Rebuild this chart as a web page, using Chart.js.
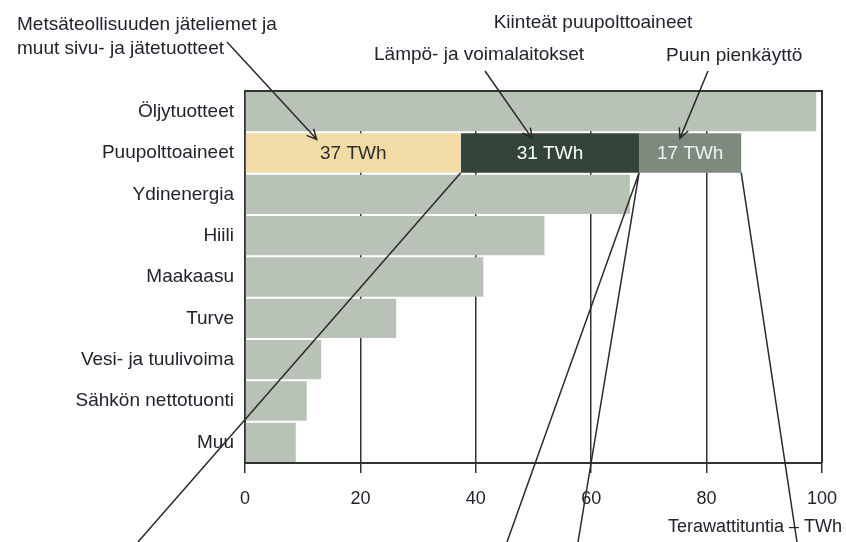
<!DOCTYPE html>
<html>
<head>
<meta charset="utf-8">
<script src="https://cdn.jsdelivr.net/npm/chart.js@4.4.1/dist/chart.umd.min.js"></script>
<style>
  html, body { margin: 0; padding: 0; background: #fff; }
  #wrap { position: relative; width: 846px; height: 542px; }
</style>
</head>
<body>
<div id="wrap"><canvas id="chart"></canvas></div>
<script>
// categories and values (TWh)
const categories = ['Öljytuotteet', 'Puupolttoaineet', 'Ydinenergia', 'Hiili', 'Maakaasu',
                    'Turve', 'Vesi- ja tuulivoima', 'Sähkön nettotuonti', 'Muu'];
const otherSources = [99, null, 66.7, 51.9, 41.3, 26.2, 13.2, 10.7, 8.8];
const wasteLiquors = [null, 37.4, null, null, null, null, null, null, null];
const heatAndPower = [null, 30.9, null, null, null, null, null, null, null];
const smallScale   = [null, 17.7, null, null, null, null, null, null, null];
const woodLabels = ['37 TWh', '31 TWh', '17 TWh'];
const xTicks = [0, 20, 40, 60, 80, 100];

const FONT = "'Liberation Sans', Arial, sans-serif";
const TXT = '#23232f';

function arrow(ctx, x1, y1, x2, y2) {
  const ang = Math.atan2(y2 - y1, x2 - x1), len = 11, spread = 0.45;
  ctx.beginPath();
  ctx.moveTo(x1, y1); ctx.lineTo(x2, y2);
  ctx.moveTo(x2 - len * Math.cos(ang - spread), y2 - len * Math.sin(ang - spread));
  ctx.lineTo(x2, y2);
  ctx.lineTo(x2 - len * Math.cos(ang + spread), y2 - len * Math.sin(ang + spread));
  ctx.stroke();
}

const annotate = {
  id: 'annotate',
  afterDraw(chart) {
    const ctx = chart.ctx, a = chart.chartArea;
    ctx.save();
    // top and right edges of the frame
    ctx.strokeStyle = '#333';
    ctx.lineWidth = 2;
    ctx.beginPath();
    ctx.moveTo(a.left, a.top); ctx.lineTo(a.right, a.top); ctx.lineTo(a.right, a.bottom);
    ctx.stroke();

    // texts inside the wood fuel segments
    const segs = [1, 2, 3].map(i => chart.getDatasetMeta(i).data[1]);
    const segColors = ['#2e2e2e', '#ffffff', '#eef2ee'];
    ctx.font = '19px ' + FONT;
    ctx.textAlign = 'center';
    ctx.textBaseline = 'middle';
    segs.forEach((s, i) => {
      ctx.fillStyle = segColors[i];
      ctx.fillText(woodLabels[i], (s.x + s.base) / 2, s.y + 1);
    });

    // heading texts
    ctx.fillStyle = TXT;
    ctx.textBaseline = 'alphabetic';
    ctx.textAlign = 'left';
    ctx.fillText('Metsäteollisuuden jäteliemet ja', 17, 30);
    ctx.fillText('muut sivu- ja jätetuotteet', 17, 54);
    ctx.fillText('Lämpö- ja voimalaitokset', 374, 60);
    ctx.fillText('Puun pienkäyttö', 666, 61);
    ctx.textAlign = 'center';
    ctx.fillText('Kiinteät puupolttoaineet', 593, 28);
    ctx.font = '18px ' + FONT;
    ctx.textAlign = 'right';
    ctx.fillText('Terawattituntia – TWh', 842, 532);

    // arrows from the texts to the segments
    ctx.strokeStyle = '#2a2a2a';
    ctx.lineWidth = 1.5;
    const top = segs[0].y - segs[0].height / 2;
    const at = (s, f) => s.base + (s.x - s.base) * f;
    arrow(ctx, 227, 42, at(segs[0], 0.33), top + 6);
    arrow(ctx, 485, 71, at(segs[1], 0.40), top + 5);
    arrow(ctx, 708, 71, at(segs[2], 0.40), top + 5);

    // leader lines running down from the segment corners
    const bot = segs[0].y + segs[0].height / 2;
    const H = chart.height;
    ctx.beginPath();
    ctx.moveTo(segs[0].x, bot); ctx.lineTo(138, H);
    ctx.moveTo(segs[1].x, bot); ctx.lineTo(507, H);
    ctx.moveTo(segs[1].x, bot); ctx.lineTo(578, H);
    ctx.moveTo(segs[2].x, bot); ctx.lineTo(797, H);
    ctx.stroke();
    ctx.restore();
  }
};

new Chart(document.getElementById('chart'), {
  type: 'bar',
  data: {
    labels: categories,
    datasets: [
      { label: 'Muut', data: otherSources, backgroundColor: '#b8c2b6' },
      { label: 'Jäteliemet', data: wasteLiquors, backgroundColor: '#f3dba7' },
      { label: 'Lämpö- ja voimalaitokset', data: heatAndPower, backgroundColor: '#33453a' },
      { label: 'Puun pienkäyttö', data: smallScale, backgroundColor: '#7d8b7f' }
    ]
  },
  options: {
    indexAxis: 'y',
    responsive: true,
    maintainAspectRatio: false,
    animation: false,
    layout: { padding: { top: 91, right: 24, left: 0, bottom: 0 } },
    datasets: { bar: { barPercentage: 0.95, categoryPercentage: 1 } },
    plugins: { legend: { display: false }, tooltip: { enabled: false } },
    scales: {
      x: {
        stacked: true,
        min: 0, max: 100,
        afterFit(s) { s.height = 79; s.paddingLeft = 0; s.paddingRight = 0; },
        afterBuildTicks(s) { s.ticks = xTicks.map(v => ({ value: v })); },
        grid: { color: '#333', lineWidth: 1.5, tickLength: 10, drawTicks: true },
        border: { display: true, color: '#333', width: 2 },
        ticks: { color: TXT, font: { family: FONT, size: 18 }, padding: 15 }
      },
      y: {
        stacked: true,
        afterFit(s) { s.width = 245; },
        grid: { display: false, drawTicks: false },
        border: { display: true, color: '#333', width: 2 },
        ticks: { color: TXT, font: { family: FONT, size: 19 }, padding: 11 }
      }
    }
  },
  plugins: [annotate]
});
</script>
</body>
</html>
